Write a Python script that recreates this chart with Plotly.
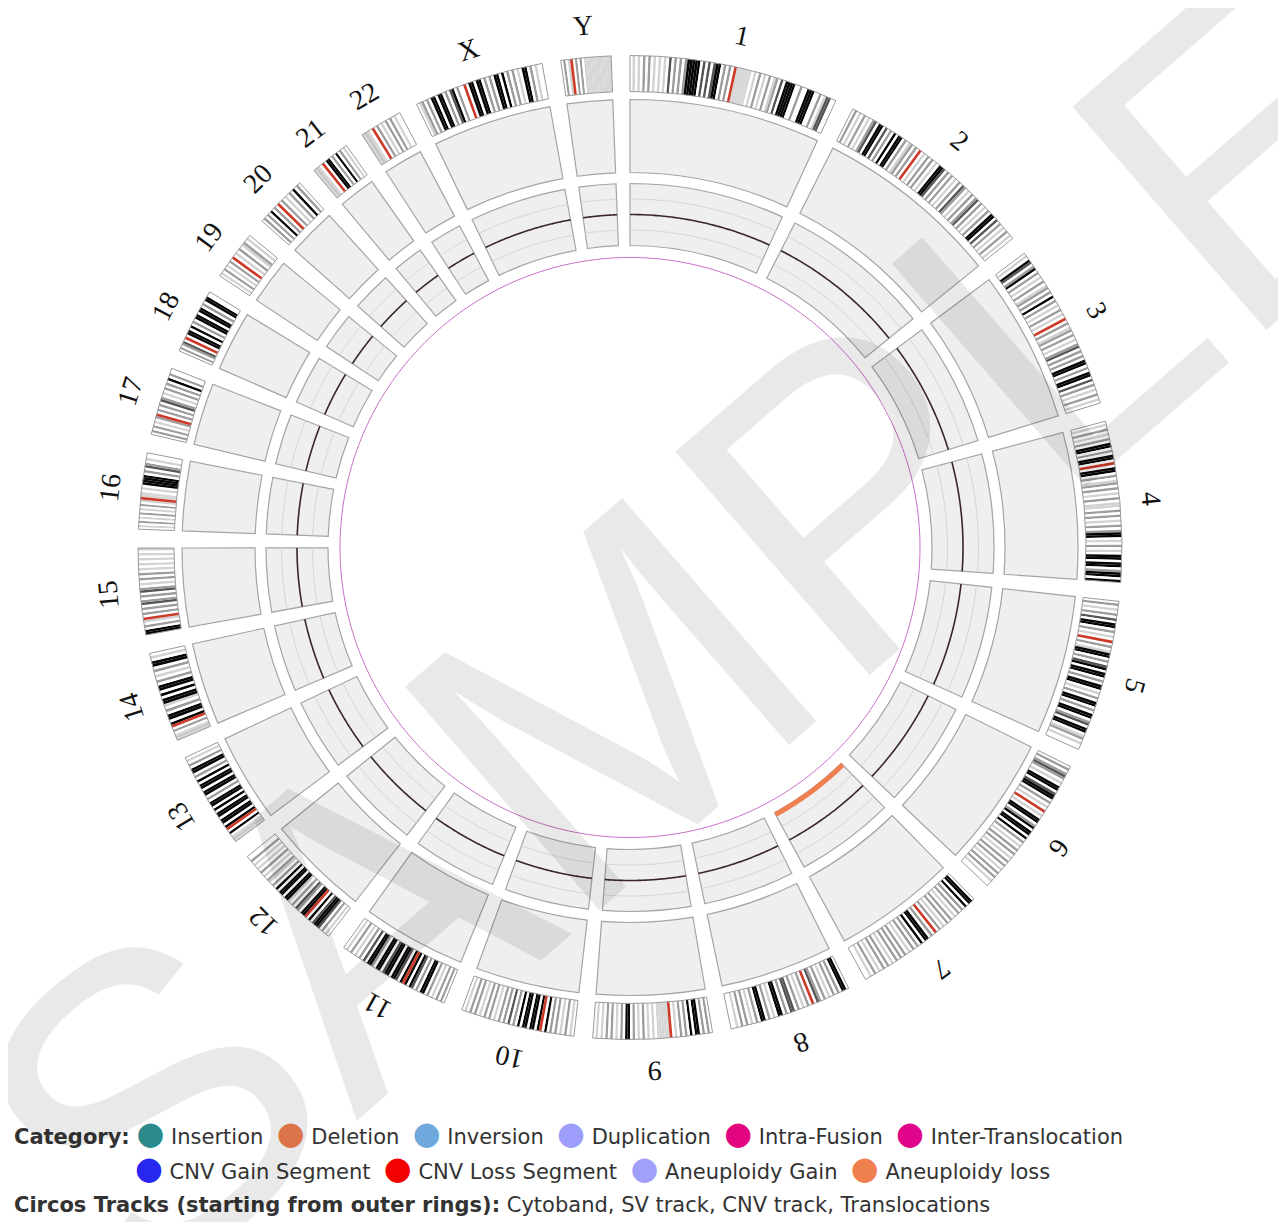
import numpy as np
import plotly.graph_objects as go

# ---------------- data ----------------
CHROMS = ['1', '2', '3', '4', '5', '6', '7', '8', '9', '10', '11', '12',
          '13', '14', '15', '16', '17', '18', '19', '20', '21', '22', 'X', 'Y']
CHR_LEN_MB = [249.25, 243.2, 198.0, 191.15, 180.9, 171.1, 159.1, 146.4, 141.2,
              135.5, 135.0, 133.9, 115.2, 107.3, 102.5, 90.4, 81.2, 78.1, 59.1,
              63.0, 48.1, 51.3, 155.3, 59.4]
CENTROMERE_MB = [125.0, 93.3, 91.0, 50.4, 48.4, 61.0, 59.5, 45.6, 49.0, 40.2,
                 53.7, 35.8, 17.9, 17.6, 19.0, 36.6, 24.0, 17.2, 26.5, 27.5,
                 13.2, 14.7, 60.6, 12.5]
# cytoband stain codes read along each arm (p-ter -> centromere, centromere -> q-ter)
P_BANDS = [
    "wawawgwgwawawawdwgwgwgkkkkkwdwdwdkkwgwgw",
    "wgwawgwawgdwkkwdwgwkwkkwgwagwgw",
    "wawkdwgkwgwawgwagwgwkwgwawgwaw",
    "wawgwawgwkkwgwkkw",
    "wgwawgwdwkkwgwaw",
    "wgwgdgwawkkwdkkwgwaw",
    "wkkwkwgwgwawgwgwawgw",
    "wkkwgwgwawgwgdw",
    "wgwgwkkwkwgwgwaw",
    "wawgwawgwgwkw",
    "wgwgwawgwkkwgwdkwk",
    "wawgwdkkdwkw",
    "vsvwkw",
    "vsvwgw",
    "kkwgwa",
    "wawgwawgwawgwa",
    "wgwgwawg",
    "wgwgdw",
    "wawgwawgw",
    "wgwgwkwgw",
    "vsvw",
    "vsvw",
    "wagwgwkkwkkwgwdkwgww",
    "wgwa",
]
Q_BANDS = [
    "vvvvvvwawgwawgwagwdwkkkkwwgwwkkkwwgwaddww",
    "wawgwgwawkkdwgwgwawgwdgwawgwgdwgwawgwkkwdwgwawgwaw",
    "wgwagwgwawgdwgwgwkkwgwkkwdwgwawgwaw",
    "wkkwgwagwgwawgwaawgwgwawgwgkkwawgwawkkwkkwgkkwk",
    "wgwakkwgwdkwkkwgwkkwawgwkkwgwkkwgdwkkwagwaww",
    "wawkkwgkwkkwkwgwawgwgwawgwgwawgwgwaww",
    "wgwkkwkwgwgwawgwgwgwawgwgwawgwaww",
    "wgwawgwddwgwkkwawgwkkwgwawgwgwaww",
    "vvvvvwawawgwawgwkkwgwawgwgwawaw",
    "kwkkwkkwkwgwdwgwgwawgwgwawgwgwaw",
    "kwdkkwkkdwkkwgkkwdwgwawgwaw",
    "kkwgdwgwakkwkkwkwgwagwawgwawawgww",
    "kwkkwkkwkwkkwgwkkwkkwkwgwkkwgwaw",
    "kwkkwgwakkwkwkkwgwawgwkkwaw",
    "wgwgwdgwgwdgwawgwgwawawawawa",
    "vvwawkkkkwgwdgwaww",
    "wgwgwdgwawgwgwkwgww",
    "wkkwkwgwkkwkkwgwkkww",
    "wawgwagwaw",
    "wgwawgwkwgw",
    "wkkwgwkwgwaw",
    "wgwawgwgwaww",
    "wkkwkkwgwgwkkwkwgwgwawkkwgwaww",
    "wgwgwavvvvvvvvvvv",
]
CNV_COPY_NUMBER = [2, 2, 2, 2, 2, 2, 2, 2, 2, 2, 2, 2,
                   2, 2, 2, 2, 2, 2, 2, 2, 2, 2, 2, 2]
ANEUPLOIDY_LOSS = ['7']

LEGEND_LABELS = ['Insertion', 'Deletion', 'Inversion', 'Duplication', 'Intra-Fusion',
                 'Inter-Translocation', 'CNV Gain Segment', 'CNV Loss Segment',
                 'Aneuploidy Gain', 'Aneuploidy loss']
LEGEND_COLORS = ['#2b8a8a', '#f07f4f', '#6fa8dc', '#9d9dfb', '#e3057f',
                 '#e0058a', '#2727f0', '#f40000', '#a0a0fb', '#f07f4f']
TRACKS_TEXT = 'Cytoband, SV track, CNV track, Translocations'

STAIN_COLORS = {'w': '#ffffff', 'a': '#d2d2d2', 'g': '#9c9c9c', 'd': '#555555',
                'k': '#050505', 'v': '#d6d6d6', 's': '#c4c4c4', 'r': '#cd3a2a'}

# ---------------- geometry ----------------
# the page body adds an 8px margin, so figure coords = window coords - 8
W, H = 1278, 1214
CX, CY, RPX = 622.0, 539.5, 500.0
GAP = 2.2
SCALE = (360.0 - GAP * len(CHROMS)) / sum(CHR_LEN_MB)
starts = []
acc = 0.0
for i, L in enumerate(CHR_LEN_MB):
    starts.append(acc * SCALE + i * GAP)
    acc += L
spans = [L * SCALE for L in CHR_LEN_MB]
centers = [s + w / 2 for s, w in zip(starts, spans)]

R_CYTO = (456, 492)
R_SV = (375, 448)
R_CNV = (302, 364)
R_INNER = 290

fig = go.Figure()

# cytoband stripes
bt, bw, bc = [], [], []
for i in range(len(CHROMS)):
    cen = CENTROMERE_MB[i]
    half = 1.6
    p, q = P_BANDS[i], Q_BANDS[i]
    pw = (cen - half) / len(p)
    for j, ch in enumerate(p):
        a0 = j * pw
        bt.append(starts[i] + (a0 + pw / 2) * SCALE)
        bw.append(pw * SCALE)
        bc.append(STAIN_COLORS[ch])
    qw = (CHR_LEN_MB[i] - cen - half) / len(q)
    for j, ch in enumerate(q):
        a0 = cen + half + j * qw
        bt.append(starts[i] + (a0 + qw / 2) * SCALE)
        bw.append(qw * SCALE)
        bc.append(STAIN_COLORS[ch])
    bt.append(starts[i] + cen * SCALE)
    bw.append(2 * half * SCALE)
    bc.append(STAIN_COLORS['r'])

fig.add_trace(go.Barpolar(theta=bt, width=bw, r=[R_CYTO[1] - R_CYTO[0]] * len(bt),
                          base=R_CYTO[0], marker=dict(color=bc, line=dict(width=0)),
                          hoverinfo='skip'))
# cytoband outline
fig.add_trace(go.Barpolar(theta=centers, width=spans, r=[R_CYTO[1] - R_CYTO[0]] * 24,
                          base=R_CYTO[0],
                          marker=dict(color='rgba(0,0,0,0)', line=dict(color='#9a9a9a', width=1)),
                          hoverinfo='skip'))
# SV track
fig.add_trace(go.Barpolar(theta=centers, width=spans, r=[R_SV[1] - R_SV[0]] * 24,
                          base=R_SV[0],
                          marker=dict(color='#efefef', line=dict(color='#a4a4a4', width=1.2)),
                          hoverinfo='skip'))
# CNV track
fig.add_trace(go.Barpolar(theta=centers, width=spans, r=[R_CNV[1] - R_CNV[0]] * 24,
                          base=R_CNV[0],
                          marker=dict(color='#efefef', line=dict(color='#a4a4a4', width=1.2)),
                          hoverinfo='skip'))

cn_scale = (R_CNV[1] - R_CNV[0]) / 4.0
for i in range(len(CHROMS)):
    th = np.linspace(starts[i], starts[i] + spans[i], 60)
    for lvl in (1, 3):
        fig.add_trace(go.Scatterpolar(theta=th, r=np.full(th.size, R_CNV[0] + lvl * cn_scale),
                                      mode='lines', line=dict(color='#d4d4d4', width=1),
                                      hoverinfo='skip'))
    fig.add_trace(go.Scatterpolar(theta=th,
                                  r=np.full(th.size, R_CNV[0] + CNV_COPY_NUMBER[i] * cn_scale),
                                  mode='lines', line=dict(color='#3a2628', width=1.6),
                                  hoverinfo='skip'))
    if CHROMS[i] in ANEUPLOIDY_LOSS:
        fig.add_trace(go.Scatterpolar(theta=th, r=np.full(th.size, R_CNV[0] + 2.0),
                                      mode='lines', line=dict(color=LEGEND_COLORS[9], width=5),
                                      hoverinfo='skip'))

# translocation ring
tc = np.linspace(0, 360, 361)
fig.add_trace(go.Scatterpolar(theta=tc, r=np.full(tc.size, R_INNER), mode='lines',
                              line=dict(color='#c870c8', width=1), hoverinfo='skip'))

annotations = []
R_LAB = 524
for i, name in enumerate(CHROMS):
    a = np.deg2rad(centers[i])
    px = CX + R_LAB * np.sin(a)
    py = CY - R_LAB * np.cos(a)
    annotations.append(dict(x=px / W, y=1 - py / H, xref='paper', yref='paper',
                            text=name, showarrow=False, textangle=centers[i],
                            xanchor='center', yanchor='middle', borderpad=0,
                            font=dict(family='Liberation Serif', size=28, color='#111111')))

def item(label, color):
    return (f"<span style='color:{color};font-size:32px'>●</span> {label}")

line1 = "<b>Category:</b> " + "  ".join(item(l, c) for l, c in zip(LEGEND_LABELS[:6], LEGEND_COLORS[:6]))
line2 = "  ".join(item(l, c) for l, c in zip(LEGEND_LABELS[6:], LEGEND_COLORS[6:]))
line3 = "<b>Circos Tracks (starting from outer rings):</b> " + TRACKS_TEXT
legend_font = dict(family='DejaVu Sans', size=21, color='#333333')
for txt, x0, y0 in [(line1, 4, 1125), (line2, 125, 1160), (line3, 4, 1197)]:
    annotations.append(dict(x=x0 / W, y=1 - y0 / H, xref='paper', yref='paper', text=txt,
                            showarrow=False, xanchor='left', yanchor='middle',
                            font=legend_font))

# watermark
annotations.append(dict(x=692 / W, y=1 - 617 / H, xref='paper', yref='paper', text='SAMPLE',
                        showarrow=False, textangle=-41, xanchor='center', yanchor='middle',
                        font=dict(family='Liberation Sans', size=430, color='rgba(0,0,0,0.085)')))

fig.update_layout(
    width=W, height=H, autosize=False, showlegend=False,
    margin=dict(l=0, r=0, t=0, b=0),
    paper_bgcolor='white', plot_bgcolor='white',
    polar=dict(
        domain=dict(x=[(CX - RPX) / W, (CX + RPX) / W], y=[1 - (CY + RPX) / H, 1 - (CY - RPX) / H]),
        bgcolor='rgba(0,0,0,0)', barmode='overlay',
        radialaxis=dict(range=[0, RPX], visible=False, showgrid=False),
        angularaxis=dict(rotation=90, direction='clockwise', visible=False, showgrid=False),
    ),
    annotations=annotations,
)

fig.write_html('out.html')
